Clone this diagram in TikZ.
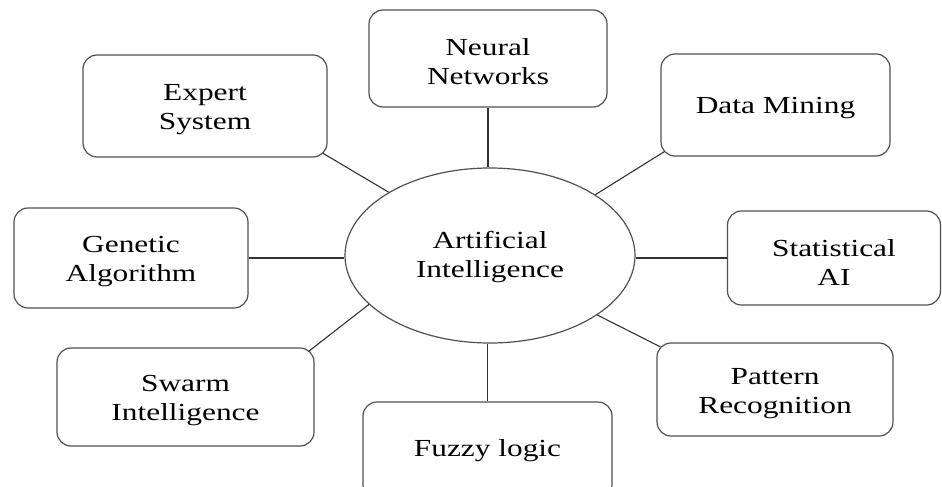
\documentclass[tikz,border=0pt]{standalone}
\usepackage{fontspec}
\setmainfont{Liberation Serif}[FakeStretch=1.28]
\usetikzlibrary{shapes.geometric,calc}
\definecolor{boxgray}{HTML}{505050}
\definecolor{linegray}{HTML}{333333}
\tikzset{
  txt/.style={font=\fontsize{24.5}{29}\selectfont, text=black, align=center, inner sep=0pt},
  box/.style={draw=boxgray, line width=1.2pt, rounded corners=14pt, inner sep=0pt},
  hub/.style={ellipse, draw=boxgray, line width=1.2pt, inner sep=0pt},
  link/.style={draw=linegray, line width=1.1pt}
}
\begin{document}
\begin{tikzpicture}[x=1pt, y=-1pt]
\useasboundingbox (0,0) rectangle (942,487);
\node[box, minimum width=238pt, minimum height=97pt] (nn) at (488,58.5) {};
\node[box, minimum width=244pt, minimum height=102pt] (es) at (205,106) {};
\node[box, minimum width=229pt, minimum height=102pt] (dm) at (775.5,105) {};
\node[box, minimum width=234pt, minimum height=100pt] (ga) at (131,258) {};
\node[box, minimum width=213pt, minimum height=94pt] (sa) at (834,258) {};
\node[box, minimum width=257pt, minimum height=98pt] (sw) at (185.5,397) {};
\node[box, minimum width=249pt, minimum height=97pt] (fl) at (487.5,450.5) {};
\node[box, minimum width=236pt, minimum height=93pt] (pr) at (775,389.5) {};
\node[hub, minimum width=290pt, minimum height=175pt] (ai) at (490,255.5) {};

\node[txt] (nnT) at ($(nn)+(0,3)$) {Neural\\Networks};
\node[txt] (esT) at ($(es)+(0,4)$) {Expert\\System};
\node[txt] (dmT) at ($(dm)+(0,3.5)$) {Data Mining};
\node[txt] (gaT) at ($(ga)+(0,4)$) {Genetic\\Algorithm};
\node[txt] (saT) at ($(sa)+(0,4)$) {Statistical\\AI};
\node[txt] (swT) at ($(sw)+(0,4)$) {Swarm\\Intelligence};
\node[txt] (flT) at ($(fl)+(0,0)$) {Fuzzy logic};
\node[txt] (prT) at ($(pr)+(0,4)$) {Pattern\\Recognition};
\node[txt] (aiT) at ($(ai)+(0,2)$) {Artificial\\Intelligence};

\draw[link] (nn.south) -- (nn.south |- ai.north);
\draw[link] (fl.north) -- (fl.north |- ai.south);
\draw[link] (ga.east) -- (ga.east -| ai.west);
\draw[link] (sa.west) -- (sa.west -| ai.east);
\draw[link] ($(es.south east)+(-5,-4.5)$) -- (ai.148);
\draw[link] ($(dm.south west)+(4,-5)$) -- (ai.30.5);
\draw[link] ($(sw.north east)+(-6,4)$) -- (ai.202.3);
\draw[link] ($(pr.north west)+(4,4.5)$) -- (ai.331.6);
\end{tikzpicture}
\end{document}
